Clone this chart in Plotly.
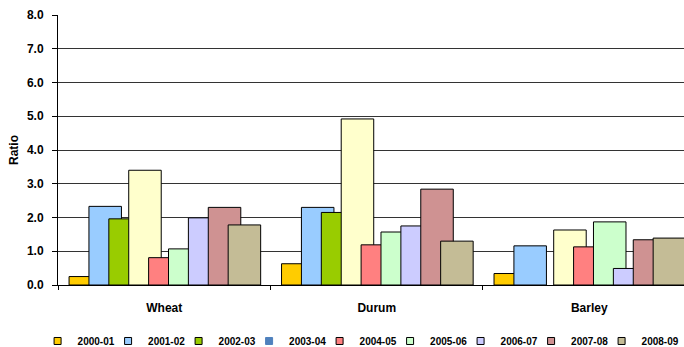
import plotly.graph_objects as go

# Crop ratios by season
crops = ["Wheat", "Durum", "Barley"]
seasons = ["2000-01", "2001-02", "2002-03", "2003-04", "2004-05",
           "2005-06", "2006-07", "2007-08", "2008-09"]

r_2000_01 = [0.25, 0.63, 0.34]
r_2001_02 = [2.33, 2.30, 1.16]
r_2002_03 = [1.96, 2.15, None]
r_2003_04 = [3.40, 4.92, 1.63]
r_2004_05 = [0.81, 1.19, 1.13]
r_2005_06 = [1.07, 1.57, 1.87]
r_2006_07 = [1.99, 1.75, 0.49]
r_2007_08 = [2.30, 2.84, 1.34]
r_2008_09 = [1.78, 1.30, 1.39]

series = [r_2000_01, r_2001_02, r_2002_03, r_2003_04, r_2004_05,
          r_2005_06, r_2006_07, r_2007_08, r_2008_09]

bar_colors = ["#FFCC00", "#99CCFF", "#99CC00", "#FFFFCC", "#FF8080",
              "#CCFFCC", "#CCCCFF", "#CF9292", "#C4BC96"]
key_colors = ["#FFCC00", "#99CCFF", "#99CC00", "#4F81BD", "#FF8080",
              "#CCFFCC", "#CCCCFF", "#CF9292", "#C4BC96"]
key_border = ["#000", "#000", "#000", "#4F81BD", "#000",
              "#000", "#000", "#000", "#000"]

FONT = "Arial, Liberation Sans, sans-serif"

fig = go.Figure()

# Overlapping bars: each season is wider than its slot, later seasons drawn on top
first = -0.448
step = 0.0936
width = 0.153
for i, (name, vals) in enumerate(zip(seasons, series)):
    fig.add_trace(go.Bar(
        x=crops, y=vals, name=name,
        offset=first + i * step, width=width,
        marker=dict(color=bar_colors[i], line=dict(color="#000", width=1)),
        showlegend=False,
    ))

# Legend keys (last entry gets room for its full label)
for i, name in enumerate(seasons):
    fig.add_trace(go.Scatter(
        x=[None], y=[None], name=name, mode="markers",
        marker=dict(symbol="square", size=7, color=key_colors[i],
                    line=dict(color=key_border[i], width=1)),
        legendwidth=42 if i == len(seasons) - 1 else None,
    ))

fig.update_layout(
    width=684, height=347,
    margin=dict(l=58, r=0, t=15, b=62, autoexpand=False),
    paper_bgcolor="white", plot_bgcolor="white",
    barmode="overlay",
    font=dict(family=FONT, color="#000"),
    showlegend=True,
    legend=dict(
        orientation="h", xref="paper", yref="paper",
        x=-0.0326, y=-0.2074, xanchor="left", yanchor="middle",
        entrywidth=25.5, entrywidthmode="pixels",
        font=dict(size=10, family=FONT, color="#000", weight="bold"),
        itemwidth=30, bgcolor="rgba(0,0,0,0)",
    ),
    xaxis=dict(
        type="category", categoryorder="array", categoryarray=crops,
        range=[-0.5, 2.446],
        showline=True, linecolor="#000", linewidth=1,
        ticks="outside", tickson="boundaries", ticklen=4, tickcolor="#000",
        showgrid=False, zeroline=False,
        tickfont=dict(size=12, family=FONT, color="#000", weight="bold"),
        ticklabelstandoff=12,
    ),
    yaxis=dict(
        range=[0, 8], dtick=1, tickformat=".1f",
        showline=True, linecolor="#000", linewidth=1,
        ticks="outside", ticklen=5, tickcolor="#000",
        showgrid=True, gridcolor="#333", gridwidth=1,
        zeroline=False,
        tickfont=dict(size=12, family=FONT, color="#000", weight="bold"),
        ticklabelstandoff=6,
        title=dict(text="Ratio", standoff=5,
                   font=dict(size=12, family=FONT, color="#000", weight="bold")),
    ),
)

fig.write_html("out.html")
